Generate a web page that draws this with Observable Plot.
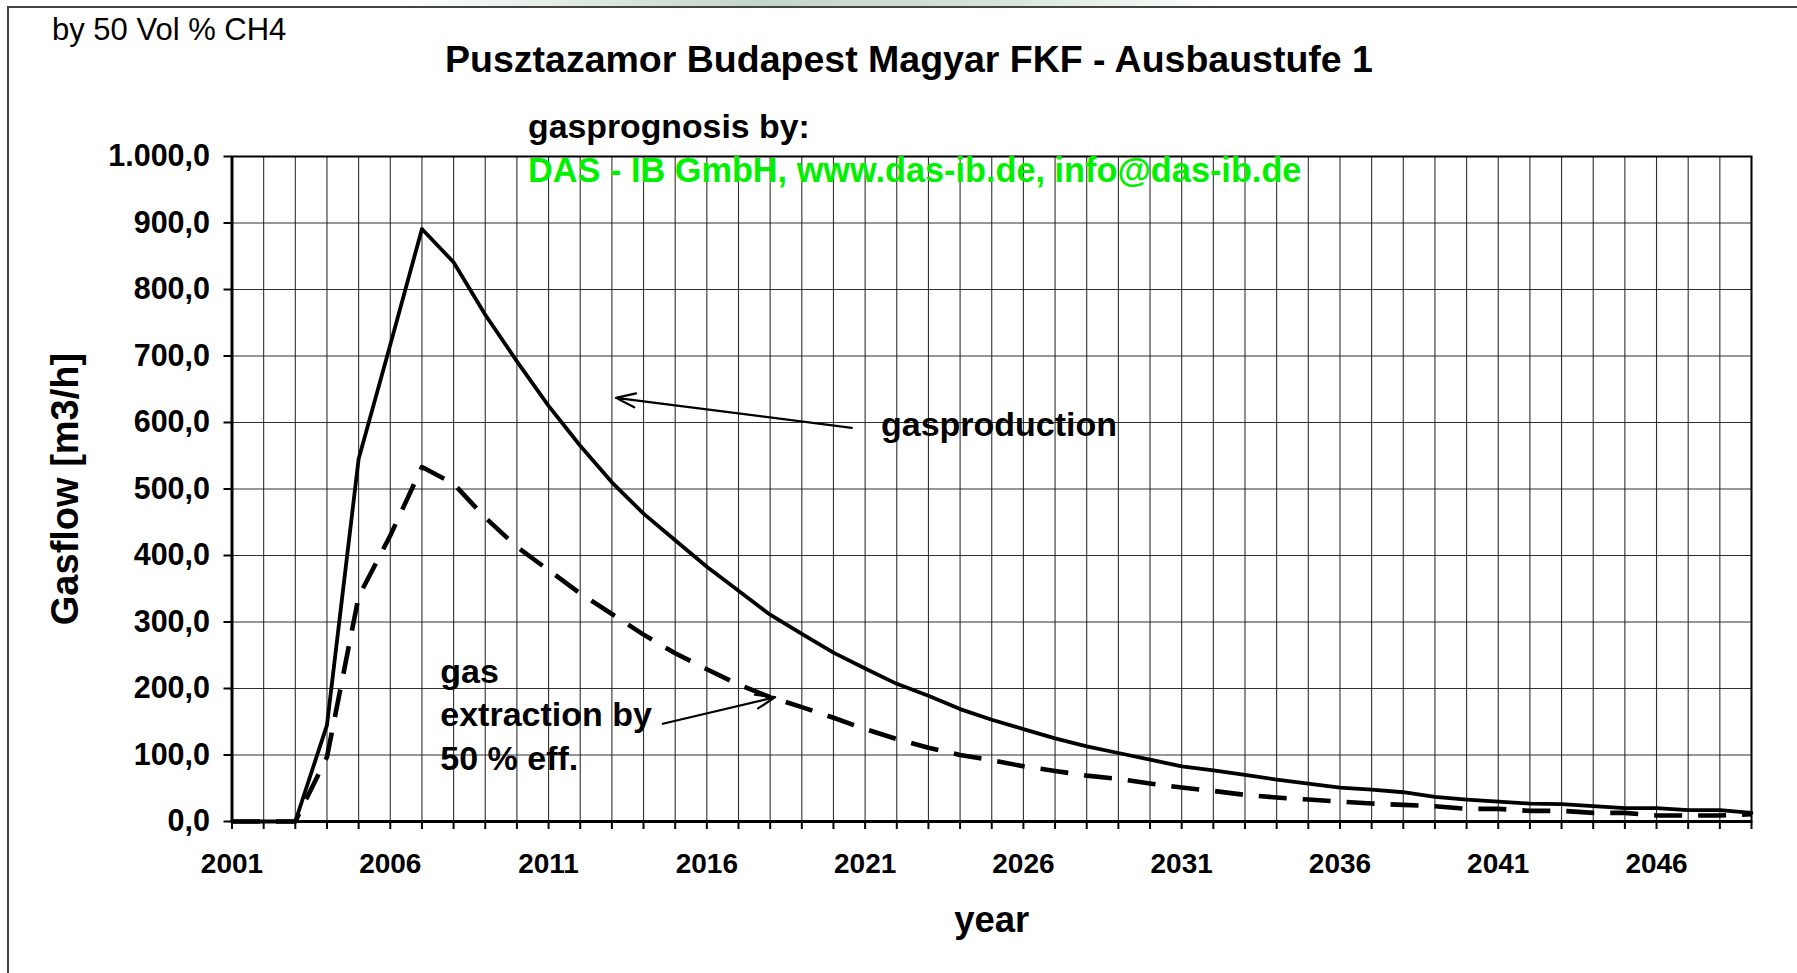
<!DOCTYPE html>
<html><head><meta charset="utf-8">
<script src="https://cdn.jsdelivr.net/npm/d3@7"></script>
<script src="https://cdn.jsdelivr.net/npm/@observablehq/plot@0.6"></script>
<style>
body{margin:0;background:#fff;font-family:"Liberation Sans",Arial,sans-serif;}
#wrap{position:relative;width:1797px;height:973px;overflow:hidden;background:#fff;}
#wrap svg{position:absolute;left:0;top:0;}
.t{position:absolute;white-space:nowrap;line-height:1;color:#000;}
</style></head><body>
<div id="wrap"></div>
<script>
// ---- data ----
const years = [2001,2002,2003,2004,2005,2006,2007,2008,2009,2010,
  2011,2012,2013,2014,2015,2016,2017,2018,2019,2020,
  2021,2022,2023,2024,2025,2026,2027,2028,2029,2030,
  2031,2032,2033,2034,2035,2036,2037,2038,2039,2040,
  2041,2042,2043,2044,2045,2046,2047,2048,2049];
const gasproduction = [0,0,0,145,545,717,891,841,762,692,
  625,565,510,463,423,383,347,311,282,254,
  230,207,189,169,153,139,125,113,103,93,
  83,77,70,63,57,51,48,44,37,33,
  30,27,26,23,20,20,17,17,13];
const extraction = [0,0,0,97,338,430,533,508,457,413,
  378,343,312,281,253,229,206,187,172,156,
  139,124,111,100,92,83,76,69,64,57,
  51,46,40,36,33,30,27,25,23,19,
  19,16,16,13,13,9,9,9,11];
const yTicks = [0,100,200,300,400,500,600,700,800,900,1000];
const xLabelYears = [2001,2006,2011,2016,2021,2026,2031,2036,2041,2046];
const titleText = "Pusztazamor Budapest Magyar FKF - Ausbaustufe 1";
const noteText = "by 50 Vol % CH4";
const subText = "gasprognosis by:";
const creditText = "DAS - IB GmbH, www.das-ib.de, info@das-ib.de";
const yLabel = "Gasflow [m3/h]";
const xLabel = "year";
// annotation labels and arrows in data coordinates
const labels = [
  {text: "gasproduction", year: 2021.5, value: 601},
  {text: "gas\nextraction by\n50 % eff.", year: 2007.58, value: 164}
];
const arrows = [
  {x1: 2020.58, y1: 592, x2: 2013.13, y2: 637},
  {x1: 2014.61, y1: 147, x2: 2018.16, y2: 187}
];

// ---- build ----
const prodData = years.map((y, i) => ({year: y, value: gasproduction[i]}));
const extrData = years.map((y, i) => ({year: y, value: extraction[i]}));
const loc = d3.formatLocale({decimal: ",", thousands: ".", grouping: [3], currency: ["", ""]});
const yFmt = loc.format(",.1f");
const labelSet = new Set(xLabelYears);

const chart = Plot.plot({
  width: 1797, height: 973,
  marginLeft: 231.5, marginRight: 46, marginTop: 156, marginBottom: 152,
  style: {fontFamily: "'Liberation Sans', Arial, sans-serif", background: "transparent", color: "#000"},
  x: {type: "linear", domain: [2001, 2049]},
  y: {domain: [0, 1000]},
  marks: [
    Plot.gridX(years, {stroke: "#1a1a1a", strokeOpacity: 0.9, strokeWidth: 1.1}),
    Plot.gridY(yTicks, {stroke: "#1a1a1a", strokeOpacity: 0.9, strokeWidth: 1.1}),
    Plot.frame({stroke: "#000", strokeWidth: 2}),
    Plot.ruleX([2001], {stroke: "#000", strokeWidth: 3}),
    Plot.ruleY([0], {stroke: "#000", strokeWidth: 3}),
    Plot.axisX(years, {tickSize: 8, tickPadding: 24, strokeWidth: 2,
      tickFormat: d => labelSet.has(d) ? String(d) : "",
      fontSize: 28, fontWeight: "bold", label: null}),
    Plot.axisY(yTicks, {tickSize: 8, tickPadding: 14, strokeWidth: 2,
      tickFormat: yFmt, fontSize: 30.5, fontWeight: "bold", label: null}),
    Plot.line(extrData, {x: "year", y: "value", stroke: "#000", strokeWidth: 4.6, strokeDasharray: "28,16", strokeLinecap: "butt"}),
    Plot.line(prodData, {x: "year", y: "value", stroke: "#000", strokeWidth: 3.8}),
    Plot.arrow(arrows, {x1: "x1", y1: "y1", x2: "x2", y2: "y2", stroke: "#000", strokeWidth: 2.2, headLength: 14, headAngle: 40}),
    Plot.text(labels, {x: "year", y: "value", text: "text", textAnchor: "start", lineAnchor: "middle",
      fontSize: 34, fontWeight: "bold", lineHeight: 1.28, fill: "#000"}),
    Plot.text([yLabel], {text: d => d, frameAnchor: "left", dx: -166.5, rotate: -90, textAnchor: "middle", lineAnchor: "middle",
      fontSize: 38, fontWeight: "bold", fill: "#000"}),
    Plot.text([xLabel], {text: d => d, frameAnchor: "bottom", dy: 99, lineAnchor: "middle",
      fontSize: 36.5, fontWeight: "bold", fill: "#000"})
  ]
});

const wrap = document.getElementById("wrap");
// top slide gradient strip
const strip = document.createElement("div");
strip.style.cssText = "position:absolute;left:0;top:0;width:1797px;height:7px;background:linear-gradient(to right,#fff 22%,#c3d6cb 42%,#d4e3da 55%,#fff 68%);";
wrap.appendChild(strip);
wrap.appendChild(chart);
// outer border
const bl = document.createElement("div");
bl.style.cssText = "position:absolute;left:7px;top:6px;width:2px;height:967px;background:#444;";
wrap.appendChild(bl);
const bt = document.createElement("div");
bt.style.cssText = "position:absolute;left:7px;top:6px;width:1790px;height:2px;background:#444;";
wrap.appendChild(bt);

function addText(txt, css) {
  const d = document.createElement("div");
  d.className = "t";
  d.textContent = txt;
  d.style.cssText += css;
  wrap.appendChild(d);
}
addText(noteText, "left:52px;top:14px;font-size:31px;");
addText(titleText, "left:909px;top:41px;font-size:37.5px;font-weight:bold;transform:translateX(-50%);");
addText(subText, "left:528px;top:110px;font-size:33.8px;font-weight:bold;");
addText(creditText, "left:528px;top:153px;font-size:34.3px;font-weight:bold;color:#00f000;");
</script>
</body></html>
